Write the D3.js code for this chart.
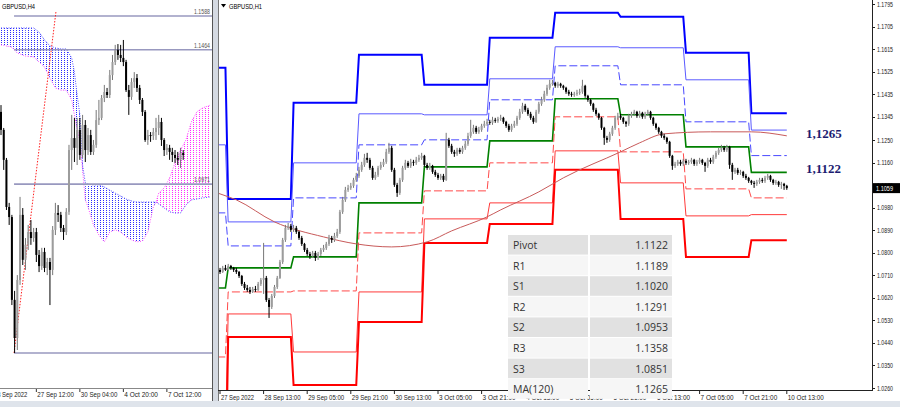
<!DOCTYPE html>
<html>
<head>
<meta charset="utf-8">
<script src="https://cdn.jsdelivr.net/npm/d3@7"></script>
<style>
body { margin: 0; background: #fff; }
svg { display: block; font-family: "Liberation Sans", Arial, sans-serif; }
</style>
</head>
<body>
<svg id="chart" width="900" height="407"></svg>
<script>
// ---------- H1 chart data (right panel) ----------
var h1Open = [1.0732,1.0724,1.0740,1.0732,1.0748,1.0740,1.0732,1.0724,1.0708,1.0676,
1.0660,1.0652,1.0644,1.0656,1.0652,1.0676,1.0692,1.0700,1.0612,1.0584,
1.0628,1.0664,1.0700,1.0764,1.0852,1.0900,1.0908,1.0892,1.0900,1.0884,
1.0860,1.0836,1.0812,1.0796,1.0788,1.0800,1.0780,1.0796,1.0812,1.0820,
1.0836,1.0860,1.0852,1.0868,1.0884,1.0964,1.1012,1.1052,1.1060,1.1068,
1.1092,1.1108,1.1132,1.1152,1.1180,1.1172,1.1140,1.1100,1.1112,1.1140,
1.1152,1.1164,1.1204,1.1220,1.1132,1.1072,1.1040,1.1092,1.1140,1.1160,
1.1148,1.1164,1.1160,1.1172,1.1180,1.1188,1.1152,1.1140,1.1148,1.1124,
1.1112,1.1100,1.1108,1.1092,1.1252,1.1228,1.1204,1.1196,1.1212,1.1204,
1.1220,1.1236,1.1268,1.1284,1.1300,1.1284,1.1292,1.1308,1.1316,1.1324,
1.1320,1.1332,1.1328,1.1336,1.1340,1.1324,1.1308,1.1292,1.1308,1.1316,
1.1340,1.1364,1.1388,1.1372,1.1356,1.1340,1.1324,1.1364,1.1396,1.1412,
1.1436,1.1460,1.1476,1.1480,1.1468,1.1476,1.1468,1.1460,1.1444,1.1436,
1.1432,1.1436,1.1440,1.1444,1.1468,1.1428,1.1412,1.1396,1.1372,1.1356,
1.1340,1.1300,1.1260,1.1252,1.1276,1.1300,1.1340,1.1348,1.1340,1.1324,
1.1316,1.1348,1.1356,1.1364,1.1348,1.1360,1.1344,1.1356,1.1364,1.1340,
1.1316,1.1300,1.1284,1.1268,1.1260,1.1244,1.1188,1.1148,1.1156,1.1164,
1.1156,1.1168,1.1160,1.1164,1.1172,1.1156,1.1164,1.1172,1.1160,1.1148,
1.1172,1.1164,1.1184,1.1200,1.1212,1.1220,1.1212,1.1224,1.1152,1.1124,
1.1132,1.1120,1.1124,1.1108,1.1100,1.1088,1.1080,1.1076,1.1084,1.1092,
1.1088,1.1100,1.1108,1.1092,1.1080,1.1084,1.1072,1.1076,1.1068];
var h1High = [1.0740,1.0748,1.0752,1.0756,1.0752,1.0744,1.0740,1.0728,1.0712,1.0684,
1.0672,1.0664,1.0664,1.0668,1.0684,1.0700,1.0840,1.0708,1.0620,1.0636,
1.0672,1.0708,1.0772,1.0860,1.0912,1.0920,1.0916,1.0912,1.0908,1.0888,
1.0868,1.0840,1.0820,1.0804,1.0808,1.0808,1.0804,1.0820,1.0832,1.0844,
1.0872,1.0868,1.0880,1.0896,1.0972,1.1024,1.1064,1.1072,1.1080,1.1100,
1.1120,1.1144,1.1164,1.1196,1.1200,1.1180,1.1148,1.1124,1.1148,1.1164,
1.1176,1.1216,1.1240,1.1228,1.1140,1.1080,1.1100,1.1148,1.1172,1.1168,
1.1176,1.1172,1.1184,1.1192,1.1200,1.1192,1.1160,1.1160,1.1152,1.1132,
1.1120,1.1116,1.1116,1.1280,1.1260,1.1236,1.1212,1.1220,1.1220,1.1228,
1.1248,1.1280,1.1332,1.1312,1.1308,1.1304,1.1316,1.1328,1.1336,1.1332,
1.1344,1.1340,1.1344,1.1352,1.1344,1.1328,1.1316,1.1316,1.1328,1.1348,
1.1376,1.1400,1.1396,1.1380,1.1364,1.1348,1.1372,1.1404,1.1424,1.1448,
1.1472,1.1492,1.1492,1.1484,1.1484,1.1480,1.1472,1.1464,1.1452,1.1444,
1.1444,1.1452,1.1456,1.1492,1.1472,1.1432,1.1416,1.1400,1.1380,1.1360,
1.1344,1.1304,1.1268,1.1284,1.1308,1.1348,1.1360,1.1356,1.1344,1.1328,
1.1356,1.1364,1.1372,1.1368,1.1368,1.1364,1.1364,1.1372,1.1368,1.1344,
1.1320,1.1304,1.1288,1.1276,1.1264,1.1248,1.1192,1.1164,1.1172,1.1172,
1.1176,1.1176,1.1172,1.1180,1.1176,1.1172,1.1180,1.1176,1.1164,1.1180,
1.1180,1.1192,1.1208,1.1220,1.1232,1.1228,1.1232,1.1228,1.1160,1.1140,
1.1140,1.1132,1.1128,1.1116,1.1104,1.1092,1.1088,1.1092,1.1100,1.1100,
1.1108,1.1116,1.1112,1.1096,1.1092,1.1088,1.1084,1.1080,1.1072];
var h1Low = [1.0716,1.0720,1.0728,1.0728,1.0732,1.0724,1.0716,1.0700,1.0668,1.0652,
1.0644,1.0636,1.0640,1.0644,1.0648,1.0668,1.0636,1.0604,1.0540,1.0576,
1.0620,1.0656,1.0696,1.0756,1.0844,1.0892,1.0884,1.0884,1.0876,1.0852,
1.0828,1.0804,1.0788,1.0776,1.0780,1.0768,1.0772,1.0788,1.0804,1.0812,
1.0828,1.0840,1.0844,1.0860,1.0876,1.0956,1.1004,1.1044,1.1052,1.1060,
1.1084,1.1100,1.1124,1.1144,1.1160,1.1132,1.1092,1.1092,1.1104,1.1132,
1.1144,1.1156,1.1196,1.1124,1.1064,1.1024,1.1032,1.1084,1.1132,1.1140,
1.1140,1.1148,1.1152,1.1164,1.1172,1.1144,1.1132,1.1132,1.1116,1.1104,
1.1092,1.1092,1.1084,1.1088,1.1220,1.1196,1.1184,1.1188,1.1196,1.1196,
1.1212,1.1228,1.1260,1.1276,1.1276,1.1276,1.1284,1.1300,1.1308,1.1312,
1.1312,1.1320,1.1320,1.1328,1.1316,1.1300,1.1284,1.1284,1.1300,1.1308,
1.1332,1.1356,1.1364,1.1348,1.1332,1.1316,1.1320,1.1356,1.1388,1.1404,
1.1428,1.1452,1.1468,1.1460,1.1460,1.1460,1.1452,1.1436,1.1428,1.1424,
1.1424,1.1428,1.1432,1.1436,1.1420,1.1404,1.1388,1.1364,1.1348,1.1332,
1.1292,1.1232,1.1240,1.1244,1.1268,1.1292,1.1332,1.1332,1.1316,1.1304,
1.1308,1.1340,1.1348,1.1340,1.1340,1.1336,1.1336,1.1348,1.1332,1.1308,
1.1292,1.1276,1.1260,1.1252,1.1236,1.1180,1.1132,1.1140,1.1148,1.1148,
1.1148,1.1152,1.1152,1.1156,1.1148,1.1148,1.1156,1.1152,1.1124,1.1140,
1.1156,1.1156,1.1176,1.1192,1.1204,1.1204,1.1204,1.1136,1.1092,1.1116,
1.1112,1.1112,1.1100,1.1092,1.1080,1.1072,1.1060,1.1068,1.1076,1.1080,
1.1080,1.1092,1.1084,1.1072,1.1072,1.1064,1.1056,1.1052,1.1052];
var h1Close = [1.0724,1.0740,1.0732,1.0748,1.0740,1.0732,1.0724,1.0708,1.0676,1.0660,
1.0652,1.0644,1.0656,1.0652,1.0676,1.0692,1.0700,1.0612,1.0584,1.0628,
1.0664,1.0700,1.0764,1.0852,1.0900,1.0908,1.0892,1.0900,1.0884,1.0860,
1.0836,1.0812,1.0796,1.0788,1.0800,1.0780,1.0796,1.0812,1.0820,1.0836,
1.0860,1.0852,1.0868,1.0884,1.0964,1.1012,1.1052,1.1060,1.1068,1.1092,
1.1108,1.1132,1.1152,1.1180,1.1172,1.1140,1.1100,1.1112,1.1140,1.1152,
1.1164,1.1204,1.1220,1.1132,1.1072,1.1040,1.1092,1.1140,1.1160,1.1148,
1.1164,1.1160,1.1172,1.1180,1.1188,1.1152,1.1140,1.1148,1.1124,1.1112,
1.1100,1.1108,1.1092,1.1252,1.1228,1.1204,1.1196,1.1212,1.1204,1.1220,
1.1236,1.1268,1.1284,1.1300,1.1284,1.1292,1.1308,1.1316,1.1324,1.1320,
1.1332,1.1328,1.1336,1.1340,1.1324,1.1308,1.1292,1.1308,1.1316,1.1340,
1.1364,1.1388,1.1372,1.1356,1.1340,1.1324,1.1364,1.1396,1.1412,1.1436,
1.1460,1.1476,1.1480,1.1468,1.1476,1.1468,1.1460,1.1444,1.1436,1.1432,
1.1436,1.1440,1.1444,1.1468,1.1428,1.1412,1.1396,1.1372,1.1356,1.1340,
1.1300,1.1260,1.1252,1.1276,1.1300,1.1340,1.1348,1.1340,1.1324,1.1316,
1.1348,1.1356,1.1364,1.1348,1.1360,1.1344,1.1356,1.1364,1.1340,1.1316,
1.1300,1.1284,1.1268,1.1260,1.1244,1.1188,1.1148,1.1156,1.1164,1.1156,
1.1168,1.1160,1.1164,1.1172,1.1156,1.1164,1.1172,1.1160,1.1148,1.1172,
1.1164,1.1184,1.1200,1.1212,1.1220,1.1212,1.1224,1.1152,1.1124,1.1132,
1.1120,1.1124,1.1108,1.1100,1.1088,1.1080,1.1076,1.1084,1.1092,1.1088,
1.1100,1.1108,1.1092,1.1080,1.1084,1.1072,1.1076,1.1068,1.1059];

// daily pivot levels, one value per trading day (27 Sep .. 10 Oct)
var dayStart = [-1, 3, 27, 51, 75, 99, 123, 147, 171, 195];
var lastBar = 208;
var r3 = [1.1540,1.1016,1.1400,1.1592,1.1472,1.1660,1.1760,1.1744,1.1600,1.1358];
var r2 = [1.1232,1.0924,1.1160,1.1356,1.1352,1.1496,1.1624,1.1620,1.1492,1.1291];
var r1 = [1.0960,1.0828,1.1020,1.1232,1.1252,1.1412,1.1548,1.1472,1.1324,1.1189];
var pv = [1.0660,1.0740,1.0784,1.1000,1.1144,1.1248,1.1416,1.1352,1.1224,1.1122];
var s1 = [1.0384,1.0644,1.0648,1.0880,1.1048,1.1160,1.1344,1.1204,1.1056,1.1020];
var s2 = [1.0076,1.0556,1.0404,1.0644,1.0936,1.1000,1.1208,1.1080,1.0948,1.0953];
var s3 = [0.9800,1.0464,1.0272,1.0524,1.0840,1.0916,1.1132,1.0936,1.0784,1.0851];

// MA(120) read at a few bars
var maIdx = [-1,0,6,20,38,50,63,76,85,98,103,117,126,147,154,163,180,195,208];
var maVal = [1.1040,1.1036,1.1012,1.0924,1.0864,1.0836,1.0824,1.0844,1.0888,1.0944,1.0972,1.1044,1.1100,1.1204,1.1240,1.1276,1.1284,1.1284,1.1268];

var priceTicks = [1.1795,1.1705,1.1615,1.1525,1.1435,1.1345,1.1250,1.1160,1.1070,1.0980,1.0890,1.0800,1.0710,1.0620,1.0530,1.0440,1.0350,1.0260];
var h1TickIdx = [0,16,32,48,64,80,96,112,128,144,160,176,192,208];
var h1TickText = ["27 Sep 2022","28 Sep 13:00","29 Sep 05:00","29 Sep 21:00","30 Sep 13:00","3 Oct 05:00","3 Oct 21:00","4 Oct 13:00","5 Oct 05:00","5 Oct 21:00","6 Oct 13:00","7 Oct 05:00","7 Oct 21:00","10 Oct 13:00"];

var tableNames = ["Pivot","R1","S1","R2","S2","R3","S3","MA(120)"];
var tableValues = [1.1122,1.1189,1.1020,1.1291,1.0953,1.1358,1.0851,1.1265];
var bigLabels = ["1,1265","1,1122"];
var bigLabelVals = [1.1265, 1.1122];
var lastPrice = 1.1059;

// ---------- H4 chart data (left panel) ----------
var h4Open = [1.1236,1.1170,1.1060,1.0887,1.0850,1.0546,1.0406,1.0619,1.0858,1.0693,
1.0748,1.0795,1.0773,1.0795,1.0711,1.0670,1.0722,1.0663,1.0685,1.0656,
1.0803,1.0865,1.0858,1.0810,1.0795,1.0869,1.1096,1.1140,1.1104,1.1170,
1.1078,1.1188,1.1096,1.1151,1.1089,1.1115,1.1206,1.1214,1.1287,1.1309,
1.1298,1.1371,1.1419,1.1463,1.1445,1.1434,1.1419,1.1316,1.1291,1.1346,
1.1360,1.1324,1.1280,1.1236,1.1133,1.1151,1.1148,1.1162,1.1177,1.1199,
1.1133,1.1096,1.1104,1.1089,1.1078,1.1067,1.1060,1.1085];
var h4High = [1.1261,1.1177,1.1067,1.0902,1.0858,1.0579,1.0637,1.0924,1.0883,1.0773,
1.0821,1.0839,1.0810,1.0810,1.0729,1.0737,1.0737,1.0700,1.0700,1.0817,
1.0902,1.0894,1.0869,1.0821,1.0883,1.1115,1.1225,1.1214,1.1214,1.1214,
1.1225,1.1206,1.1177,1.1170,1.1133,1.1243,1.1280,1.1298,1.1335,1.1324,
1.1390,1.1445,1.1482,1.1485,1.1482,1.1500,1.1427,1.1335,1.1360,1.1382,
1.1375,1.1335,1.1287,1.1243,1.1170,1.1162,1.1177,1.1214,1.1225,1.1214,
1.1140,1.1118,1.1115,1.1104,1.1096,1.1089,1.1104,1.1096];
var h4Low = [1.1151,1.1023,1.0876,1.0821,1.0527,1.0351,1.0362,1.0601,1.0674,1.0656,
1.0729,1.0748,1.0759,1.0685,1.0648,1.0656,1.0648,1.0637,1.0527,1.0637,
1.0784,1.0832,1.0795,1.0766,1.0784,1.0858,1.1023,1.1052,1.1041,1.1060,
1.1067,1.1052,1.1078,1.1078,1.1078,1.1104,1.1188,1.1206,1.1272,1.1287,
1.1287,1.1353,1.1408,1.1427,1.1419,1.1404,1.1309,1.1225,1.1280,1.1324,
1.1309,1.1265,1.1221,1.1126,1.1115,1.1126,1.1133,1.1133,1.1151,1.1111,
1.1074,1.1078,1.1060,1.1052,1.1049,1.1041,1.1030,1.1060];
var h4Close = [1.1170,1.1060,1.0887,1.0850,1.0546,1.0406,1.0619,1.0858,1.0693,1.0748,
1.0795,1.0773,1.0795,1.0711,1.0670,1.0722,1.0663,1.0685,1.0656,1.0803,
1.0865,1.0858,1.0810,1.0795,1.0869,1.1096,1.1140,1.1104,1.1170,1.1078,
1.1188,1.1096,1.1151,1.1089,1.1115,1.1206,1.1214,1.1287,1.1309,1.1298,
1.1371,1.1419,1.1463,1.1445,1.1434,1.1419,1.1316,1.1291,1.1346,1.1360,
1.1324,1.1280,1.1236,1.1133,1.1151,1.1148,1.1162,1.1177,1.1199,1.1133,
1.1096,1.1104,1.1089,1.1078,1.1067,1.1060,1.1085,1.1078];

// ichimoku cloud edges
var cloudIdx = [0,4,6,9,12,14,16,18,20,22,24,26,27,28,29,30,31,32,34,36,38,40,42,44,46,48,50,52,54,56,57,58,60,62,64,66,68,70,72,74,77];
var spanA = [1.1544,1.1544,1.1544,1.1544,1.1544,1.1529,1.1500,1.1478,1.1471,1.1467,1.1467,1.1434,1.1382,1.1298,1.1225,1.1041,1.0975,1.0971,1.0968,1.0968,1.0960,1.0949,1.0938,1.0927,1.0916,1.0909,1.0905,1.0905,1.0905,1.0905,1.0905,1.0898,1.0883,1.0869,1.0865,1.0865,1.0894,1.0913,1.0916,1.0920,1.0924];
var spanB = [1.1482,1.1474,1.1452,1.1441,1.1438,1.1419,1.1401,1.1360,1.1324,1.1316,1.1316,1.1280,1.1225,1.1170,1.1133,1.1023,1.0913,1.0887,1.0821,1.0784,1.0759,1.0795,1.0803,1.0795,1.0777,1.0766,1.0759,1.0762,1.0795,1.0887,1.0905,1.0938,1.0957,1.0993,1.1049,1.1096,1.1133,1.1199,1.1236,1.1250,1.1261];

var h4Levels = [1.1588, 1.1464, 1.0971, 1.0351];
var h4LevelText = ["1.1588", "1.1464", "1.0971", ""];
var trendIdx = [4.8, 20.2];
var trendVal = [1.0351, 1.1603];
var h4TickIdx = [-3, 13, 29, 45, 61];
var h4TickText = ["23 Sep 2022","27 Sep 12:00","30 Sep 04:00","4 Oct 20:00","7 Oct 12:00"];

// ---------- drawing ----------
var svg = d3.select("#chart");

var xR = d3.scaleLinear().domain([0, 208]).range([220, 786.8]);
var yR = d3.scaleLinear().domain([1.0260, 1.1795]).range([388, 4]);
var xL = d3.scaleLinear().domain([0, 67]).range([1, 183.2]);
var yL = d3.scaleLinear().domain([1.0351, 1.1588]).range([353, 16]);

var defs = svg.append("defs");
defs.append("clipPath").attr("id", "clipL").append("rect")
    .attr("x", 0).attr("y", 0).attr("width", 212).attr("height", 388);
defs.append("clipPath").attr("id", "clipR").append("rect")
    .attr("x", 219).attr("y", 0).attr("width", 653).attr("height", 390);
defs.append("clipPath").attr("id", "clipL2").append("rect")
    .attr("x", 0).attr("y", 386).attr("width", 212).attr("height", 16);

function dotPattern(id, color) {
    var p = defs.append("pattern").attr("id", id)
        .attr("patternUnits", "userSpaceOnUse")
        .attr("width", 3).attr("height", 2);
    p.append("rect").attr("x", 1).attr("y", 0).attr("width", 1).attr("height", 1).attr("fill", color);
}
dotPattern("dotsBlue", "#2a2aff");
dotPattern("dotsMag", "#ff2aff");

svg.append("rect").attr("width", 900).attr("height", 407).attr("fill", "#fff");

function drawCandles(g, x, y, o, h, l, c, bw) {
    var idx = d3.range(c.length);
    g.selectAll("line.wick").data(idx).join("line")
        .attr("class", "wick")
        .attr("x1", function(i){ return x(i); })
        .attr("x2", function(i){ return x(i); })
        .attr("y1", function(i){ return y(h[i]); })
        .attr("y2", function(i){ return y(l[i]); })
        .attr("stroke", function(i){ return c[i] >= o[i] ? "#777" : "#000"; })
        .attr("stroke-width", 1);
    g.selectAll("rect.body").data(idx).join("rect")
        .attr("class", "body")
        .attr("x", function(i){ return x(i) - bw / 2; })
        .attr("width", bw)
        .attr("y", function(i){ return y(Math.max(o[i], c[i])); })
        .attr("height", function(i){ return Math.max(1, Math.abs(y(o[i]) - y(c[i]))); })
        .attr("fill", function(i){ return c[i] >= o[i] ? "#9c9c9c" : "#000"; });
}

// ===== left panel (H4) =====
var left = svg.append("g").attr("clip-path", "url(#clipL)");

// cloud, one quad per pair of samples
for (var k = 0; k < cloudIdx.length - 1; k++) {
    var up = (spanA[k] + spanA[k+1]) >= (spanB[k] + spanB[k+1]);
    left.append("path")
        .datum([k, k + 1])
        .attr("d", d3.area()
            .x(function(j){ return xL(cloudIdx[j]); })
            .y0(function(j){ return yL(spanB[j]); })
            .y1(function(j){ return yL(spanA[j]); }))
        .attr("fill", up ? "url(#dotsBlue)" : "url(#dotsMag)");
}
// cloud edges
left.append("path").datum(d3.range(cloudIdx.length))
    .attr("d", d3.line().x(function(j){ return xL(cloudIdx[j]); }).y(function(j){ return yL(spanA[j]); }))
    .attr("fill", "none").attr("stroke", "#4a4aff").attr("stroke-width", 1).attr("stroke-dasharray", "1,1.5");
left.append("path").datum(d3.range(cloudIdx.length))
    .attr("d", d3.line().x(function(j){ return xL(cloudIdx[j]); }).y(function(j){ return yL(spanB[j]); }))
    .attr("fill", "none").attr("stroke", "#ff4aff").attr("stroke-width", 1).attr("stroke-dasharray", "1,1.5");

// horizontal levels
h4Levels.forEach(function(v, i) {
    left.append("line")
        .attr("x1", xL(trendIdx[0])).attr("x2", 212)
        .attr("y1", yL(v)).attr("y2", yL(v))
        .attr("stroke", "#9898bf").attr("stroke-width", 1.6);
    if (h4LevelText[i]) {
        left.append("text")
            .attr("x", 210).attr("y", yL(v) - 2)
            .attr("text-anchor", "end")
            .attr("font-size", 7).attr("fill", "#555")
            .attr("textLength", 16).attr("lengthAdjust", "spacingAndGlyphs")
            .text(h4LevelText[i]);
    }
});

// dotted trend line
left.append("line")
    .attr("x1", xL(trendIdx[0])).attr("y1", yL(trendVal[0]))
    .attr("x2", xL(trendIdx[1])).attr("y2", yL(trendVal[1]))
    .attr("stroke", "#ff2020").attr("stroke-width", 1).attr("stroke-dasharray", "1.5,1.5");

drawCandles(left.append("g"), xL, yL, h4Open, h4High, h4Low, h4Close, 2);

left.append("text").attr("x", 2).attr("y", 9)
    .attr("font-size", 7.5).attr("fill", "#000")
    .attr("textLength", 33).attr("lengthAdjust", "spacingAndGlyphs")
    .text("GBPUSD,H4");

// left time axis
svg.append("line").attr("x1", 0).attr("x2", 212).attr("y1", 388.5).attr("y2", 388.5)
    .attr("stroke", "#888").attr("stroke-width", 1);
var leftAxis = svg.append("g").attr("clip-path", "url(#clipL2)");
h4TickIdx.forEach(function(t, i) {
    leftAxis.append("line").attr("x1", xL(t)).attr("x2", xL(t))
        .attr("y1", 389).attr("y2", 392).attr("stroke", "#333");
    leftAxis.append("text").attr("x", xL(t) + 1).attr("y", 397)
        .attr("font-size", 7).attr("fill", "#222")
        .attr("textLength", h4TickText[i].length * 3.05).attr("lengthAdjust", "spacingAndGlyphs")
        .text(h4TickText[i]);
});

// splitter
svg.append("rect").attr("x", 212).attr("y", 0).attr("width", 6.5).attr("height", 407).attr("fill", "#d5dae2");
svg.append("line").attr("x1", 212.5).attr("x2", 212.5).attr("y1", 0).attr("y2", 401).attr("stroke", "#555");
svg.append("line").attr("x1", 218.5).attr("x2", 218.5).attr("y1", 0).attr("y2", 401).attr("stroke", "#777");

// ===== right panel (H1) =====
var right = svg.append("g").attr("clip-path", "url(#clipR)");

function stepPoints(vals) {
    var pts = [];
    vals.forEach(function(v, k) {
        var s = dayStart[k];
        var e = k < dayStart.length - 1 ? dayStart[k+1] - 1 : lastBar;
        pts.push([s, v], [e, v]);
    });
    return pts;
}

var levelLines = [
    { vals: r3, color: "#0000ff", w: 2,   dash: null },
    { vals: r2, color: "#5a5aff", w: 1,   dash: null },
    { vals: r1, color: "#4848ff", w: 1,   dash: "8,3" },
    { vals: pv, color: "#008000", w: 1.6, dash: null },
    { vals: s1, color: "#ff4a4a", w: 1,   dash: "8,3" },
    { vals: s2, color: "#ff3a3a", w: 1,   dash: null },
    { vals: s3, color: "#ff0000", w: 2,   dash: null }
];
var stepLine = d3.line().x(function(d){ return xR(d[0]); }).y(function(d){ return yR(d[1]); });
levelLines.forEach(function(L) {
    right.append("path").datum(stepPoints(L.vals))
        .attr("d", stepLine)
        .attr("fill", "none")
        .attr("stroke", L.color)
        .attr("stroke-width", L.w)
        .attr("stroke-dasharray", L.dash);
});

right.append("path").datum(d3.range(maIdx.length))
    .attr("d", d3.line().curve(d3.curveMonotoneX)
        .x(function(j){ return xR(maIdx[j]); })
        .y(function(j){ return yR(maVal[j]); }))
    .attr("fill", "none").attr("stroke", "#c85a5a").attr("stroke-width", 1);

drawCandles(right.append("g"), xR, yR, h1Open, h1High, h1Low, h1Close, 2);

// title
svg.append("path").attr("d", "M221,4 L226,4 L223.5,7.5 Z").attr("fill", "#000");
svg.append("text").attr("x", 229).attr("y", 8.5)
    .attr("font-size", 7.5).attr("fill", "#000")
    .attr("textLength", 33).attr("lengthAdjust", "spacingAndGlyphs")
    .text("GBPUSD,H1");

// big value labels
bigLabels.forEach(function(t, i) {
    svg.append("text")
        .attr("x", 806).attr("y", yR(bigLabelVals[i]) + 1)
        .attr("font-family", "'Liberation Serif', 'Times New Roman', serif")
        .attr("font-weight", "bold").attr("font-size", 13)
        .attr("fill", "#1c1c70")
        .text(t);
});

// right price axis
svg.append("line").attr("x1", 872.5).attr("x2", 872.5).attr("y1", 0).attr("y2", 391)
    .attr("stroke", "#222");
priceTicks.forEach(function(p) {
    svg.append("line").attr("x1", 872).attr("x2", 875)
        .attr("y1", Math.round(yR(p)) + 0.5).attr("y2", Math.round(yR(p)) + 0.5)
        .attr("stroke", "#222");
    svg.append("text").attr("x", 877).attr("y", yR(p) + 2.5)
        .attr("font-size", 7).attr("fill", "#222")
        .attr("textLength", 16).attr("lengthAdjust", "spacingAndGlyphs")
        .text(p.toFixed(4));
});
svg.append("rect").attr("x", 873).attr("y", yR(lastPrice) - 5).attr("width", 27).attr("height", 10).attr("fill", "#000");
svg.append("text").attr("x", 876).attr("y", yR(lastPrice) + 2.5)
    .attr("font-size", 7).attr("fill", "#fff")
    .attr("textLength", 17).attr("lengthAdjust", "spacingAndGlyphs")
    .text(lastPrice.toFixed(4));

// right time axis
svg.append("line").attr("x1", 218).attr("x2", 873).attr("y1", 390.5).attr("y2", 390.5)
    .attr("stroke", "#222");
var axisR = svg.append("g");
h1TickIdx.forEach(function(t, i) {
    axisR.append("line").attr("x1", xR(t)).attr("x2", xR(t))
        .attr("y1", 391).attr("y2", 394).attr("stroke", "#222");
    axisR.append("text").attr("x", xR(t) + 1).attr("y", 399.5)
        .attr("font-size", 7).attr("fill", "#222")
        .attr("textLength", h1TickText[i].length * 3.0).attr("lengthAdjust", "spacingAndGlyphs")
        .text(h1TickText[i]);
});

// table (sits over the time axis, as in the original)
var tx0 = 508, tx1 = 589, tx2 = 672, ty0 = 235, rowH = 20.6;
var table = svg.append("g").attr("font-family", "'Open Sans', 'Noto Sans', sans-serif");
tableNames.forEach(function(n, i) {
    var y0 = ty0 + i * rowH;
    var fill = i % 2 === 0 ? "#e1e1e1" : "#f6f6f6";
    table.append("rect").attr("x", tx0).attr("y", y0).attr("width", tx1 - tx0 - 1).attr("height", rowH - 1).attr("fill", fill);
    table.append("rect").attr("x", tx1 + 1).attr("y", y0).attr("width", tx2 - tx1 - 1).attr("height", rowH - 1).attr("fill", fill);
    table.append("text").attr("x", tx0 + 5).attr("y", y0 + 14)
        .attr("font-size", 10.5).attr("fill", "#333").text(n);
    table.append("text").attr("x", tx2 - 4).attr("y", y0 + 14)
        .attr("text-anchor", "end")
        .attr("font-size", 10.5).attr("fill", "#333").text(tableValues[i].toFixed(4));
});

// bottom strip
svg.append("rect").attr("x", 0).attr("y", 401).attr("width", 900).attr("height", 6).attr("fill", "#dfe4eb");
</script>
</body>
</html>
